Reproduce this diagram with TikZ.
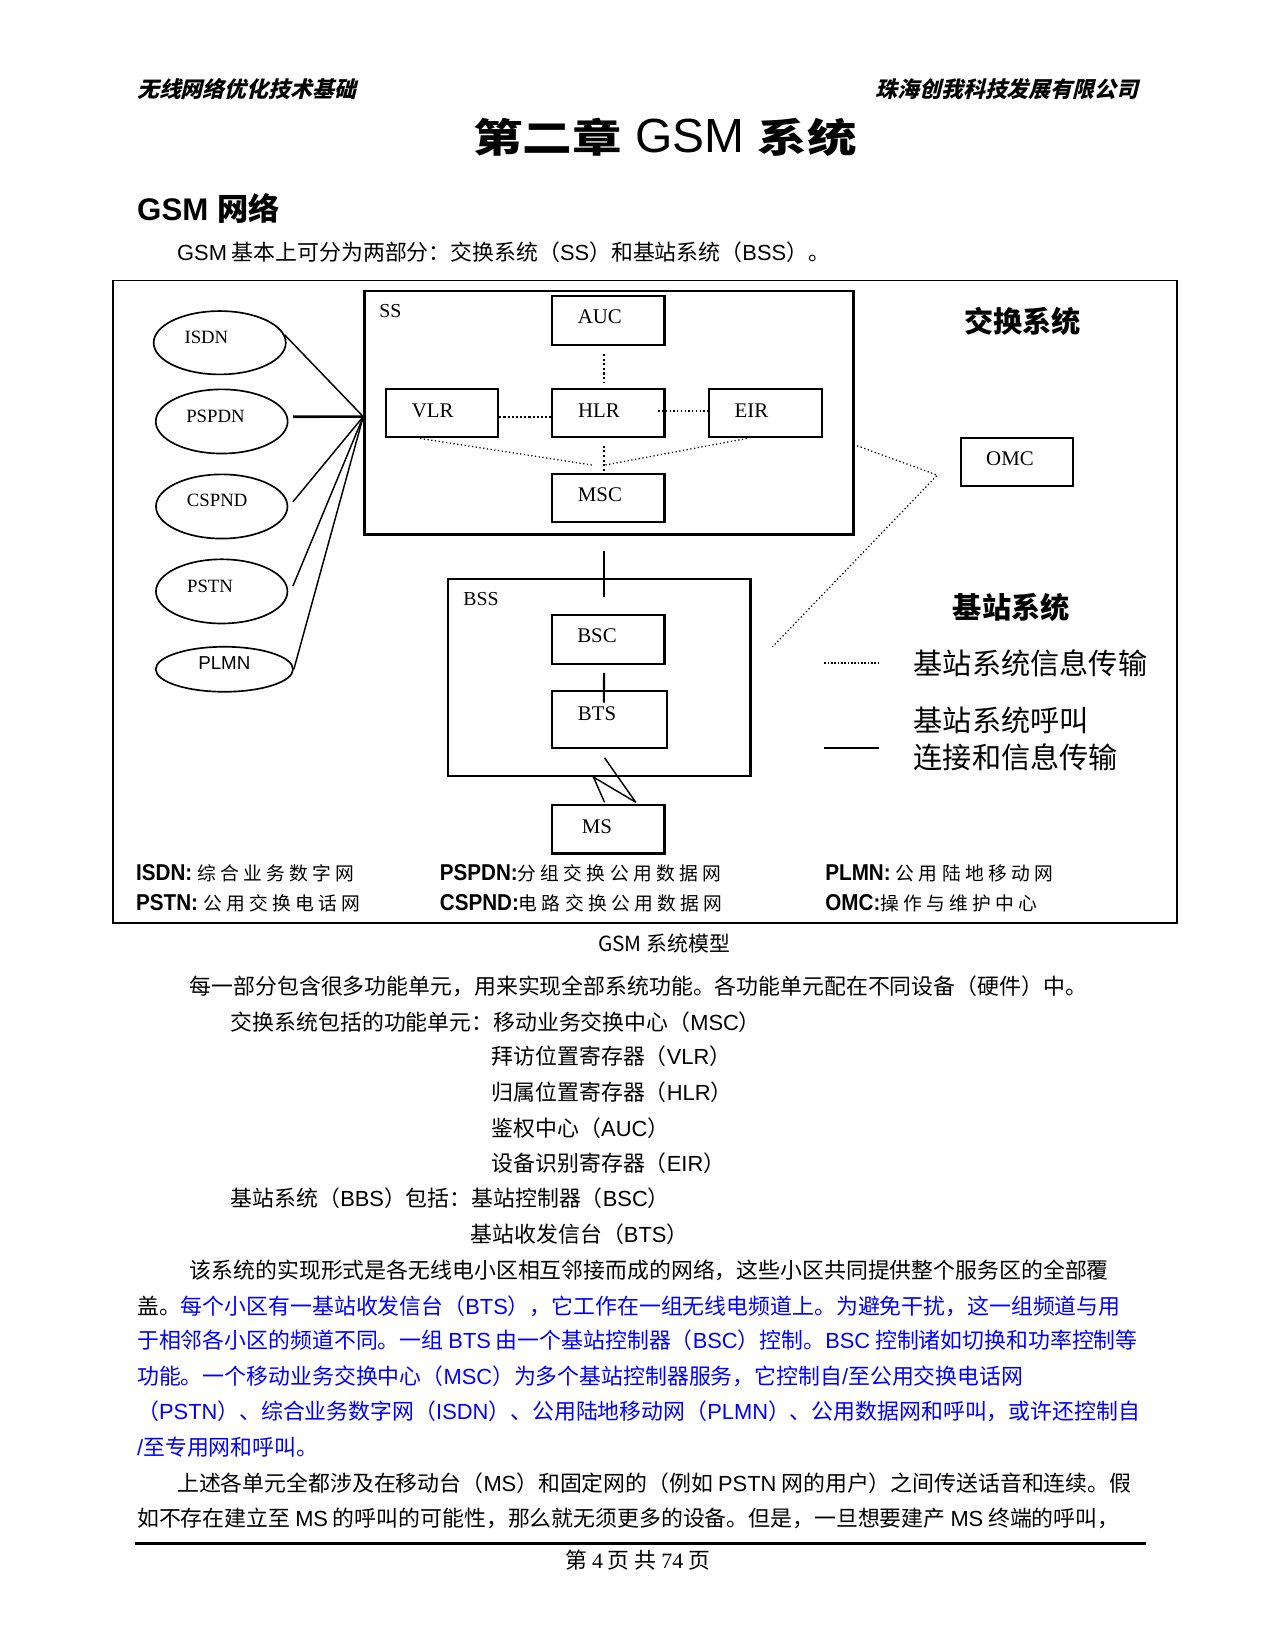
\documentclass[tikz,border=0pt]{standalone}
\usepackage{fontspec}
\usetikzlibrary{shapes.geometric}
\setmainfont{Liberation Serif}
\newfontfamily\cjk{Noto Sans CJK SC}
\newfontfamily\cjkhdr[FakeSlant=0.25]{Noto Sans CJK SC}
\newfontfamily\cjktitle[FakeStretch=1.25]{Noto Sans CJK SC}
\newfontfamily\cjksp[LetterSpace=23]{Noto Sans CJK SC}
\newfontfamily\arial{Liberation Sans}
\newfontfamily\arialn[FakeStretch=0.9]{Liberation Sans}
\newfontfamily\tnr{Liberation Serif}
\newcommand\lat[1]{{\arial #1}}
\newcommand\abB[1]{{\arialn\bfseries\fontsize{11}{13}\selectfont #1}}
\newcommand\abC[1]{{\cjksp\fontsize{9}{11}\selectfont #1}}
\definecolor{bluetext}{RGB}{0,0,255}
\begin{document}
\begin{tikzpicture}[x=0.505pt,y=-0.505pt,
  every label/.style={font=\tnr\fontsize{10}{12}\selectfont, inner sep=0pt, anchor=center},
  box/.style={draw, line width=1pt, minimum width=54pt, minimum height=23.3pt, inner sep=0pt},
  net/.style={ellipse, draw, line width=0.8pt, inner sep=0pt},
  cont/.style={draw, inner sep=0pt},
  info/.style={line width=0.6pt, dash pattern=on 0.6pt off 1.2pt},
  infov/.style={line width=1pt, dash pattern=on 1pt off 1.2pt},
  call/.style={line width=1pt},
  link/.style={line width=0.7pt},
  body/.style={anchor=west, inner sep=0pt, font=\cjk\fontsize{10.5}{12}\selectfont},
  leg/.style={anchor=west, inner sep=0pt, font=\cjk\fontsize{14}{16}\selectfont},
  abbr/.style={anchor=west, inner sep=0pt},
  nlab/.style={font=\tnr\fontsize{9}{11}\selectfont},
]
\fill[white] (0,0) rectangle (1212,1568);
\useasboundingbox (0,0) rectangle (1212,1568);

% header
\node[anchor=west, inner sep=0pt, font=\cjkhdr\bfseries\fontsize{10.5}{12}\selectfont] (hl) at (130,85) {无线网络优化技术基础};
\node[anchor=east, inner sep=0pt, font=\cjkhdr\bfseries\fontsize{10.5}{12}\selectfont] (hr) at (1082,85) {珠海创我科技发展有限公司};
\node[inner sep=0pt] (title) at (632,131) {{\cjktitle\bfseries\fontsize{19}{22}\selectfont 第二章}{\arial\fontsize{23}{26}\selectfont\ GSM\ }{\cjktitle\bfseries\fontsize{19}{22}\selectfont 系统}};
\node[anchor=west, inner sep=0pt] (h2) at (130,198) {{\arial\bfseries\fontsize{15}{18}\selectfont GSM }{\cjk\bfseries\fontsize{15}{18}\selectfont 网络}};
\node[body] (intro) at (168,240) {\lat{GSM} 基本上可分为两部分：交换系统（\lat{SS}）和基站系统（\lat{BSS}）。};

% frame and containers
\node[cont, line width=0.9pt, minimum width=510.6pt, minimum height=308.3pt] (frame) at (613,571.75) {};
\node[cont, line width=1.1pt, minimum width=234.7pt, minimum height=117pt,
  label={[xshift=13pt,yshift=-10.5pt,font=\tnr\fontsize{9.5}{11}\selectfont]north west:SS}] (ss) at (578.65,392.15) {};
\node[cont, line width=1pt, minimum width=145pt, minimum height=94.8pt,
  label={[xshift=16.2pt,yshift=-10.4pt,font=\tnr\fontsize{9.5}{11}\selectfont]north west:BSS}] (bss) at (569.6,643.7) {};

% boxes
\node[box, label={[xshift=-4pt,yshift=1.8pt]center:AUC}] (auc) at (578,304.5) {};
\node[box, label={[xshift=-4.5pt,yshift=1.3pt]center:VLR}] (vlr) at (420,392.6) {};
\node[box, label={[xshift=-4.5pt,yshift=1.3pt]center:HLR}] (hlr) at (578,392.6) {};
\node[box, label={[xshift=-6.8pt,yshift=1.3pt]center:EIR}] (eir) at (727.5,392.6) {};
\node[box, label={[xshift=-4pt,yshift=1.7pt]center:MSC}] (msc) at (578,473.4) {};
\node[box, label={[xshift=-3.3pt,yshift=1.6pt]center:OMC}] (omc) at (966.3,438.9) {};
\node[box, label={[xshift=-5.4pt,yshift=1.5pt]center:BSC}] (bsc) at (578,607.5) {};
\node[box, minimum width=55pt, minimum height=27.5pt, label={[xshift=-5.9pt,yshift=3pt]center:BTS}] (bts) at (579,684) {};
\node[box, label={[xshift=-5.4pt,yshift=1.1pt]center:MS}] (ms) at (578,788) {};

% external networks
\node[net, minimum width=63.4pt, minimum height=30.4pt, label={[nlab,xshift=-6.4pt,yshift=2.4pt]center:ISDN}] (isdn) at (208.8,325.7) {};
\node[net, minimum width=63.3pt, minimum height=30.8pt, label={[nlab,xshift=-3pt,yshift=2.3pt]center:PSPDN}] (pspdn) at (210.7,400.5) {};
\node[net, minimum width=63.1pt, minimum height=30.8pt, label={[nlab,xshift=-2.2pt,yshift=2.7pt]center:CSPND}] (cspnd) at (210.7,481.3) {};
\node[net, minimum width=63.1pt, minimum height=30.8pt, label={[nlab,xshift=-5.6pt,yshift=2.6pt]center:PSTN}] (pstn) at (210.7,562) {};
\node[net, minimum width=65.9pt, minimum height=21.6pt, label={[font=\arial\fontsize{9}{11}\selectfont,yshift=2.8pt]center:PLMN}] (plmn) at (213.2,636) {};

\coordinate (hub) at ([yshift=-1.9pt]ss.west);
\draw[link] (isdn.7) -- (hub);
\draw[line width=1.3pt] ([xshift=2.2pt,yshift=2.3pt]pspdn.east) -- (hub);
\draw[link] ([xshift=2.2pt,yshift=2.2pt]cspnd.east) -- (hub);
\draw[link] ([xshift=2.2pt,yshift=2.5pt]pstn.east) -- (hub);
\draw[link] (plmn.east) -- (hub);

% SS internal links
\draw[infov] ([xshift=-2pt,yshift=-4pt]auc.south) -- ([xshift=-2pt,yshift=2.5pt]hlr.north);
\draw[line width=1pt, dash pattern=on 1pt off 1pt] ([yshift=-1.7pt]vlr.east) -- ([yshift=-1.7pt]hlr.west);
\draw[info] ([xshift=-3.4pt,yshift=1pt]hlr.east) -- ([yshift=1pt]eir.west);
\draw[infov] ([xshift=-2pt,yshift=-3.5pt]hlr.south) -- ([xshift=-2pt,yshift=-1.4pt]msc.north);
\coordinate (jl) at (563,442);
\coordinate (jr) at (574.5,442);
\draw[info] ([xshift=-10.5pt]vlr.south) -- (jl);
\draw[info] ([xshift=-9pt]eir.south) -- (jr);

% OMC links
\coordinate (omcj) at (890.7,451.5);
\coordinate (bssj) at (734.1,614.7);
\draw[info] ([xshift=1.2pt,yshift=-15.9pt]ss.east) -- (omcj) -- (bssj);

% BSS links
\draw[call] ([xshift=-2pt,yshift=-13.3pt]msc.south) -- ([xshift=-2pt,yshift=8pt]bsc.north);
\draw[call] ([xshift=-2pt,yshift=-4pt]bsc.south) -- ([xshift=-2.6pt,yshift=-6pt]bts.north);
\coordinate (mk) at (564,738.5);
\draw[link] ([xshift=-2.3pt,yshift=-4pt]bts.south) -- ([xshift=13.2pt,yshift=0.8pt]ms.north);
\draw[link] ([xshift=13.2pt,yshift=0.8pt]ms.north) -- (mk) -- ([xshift=-1.8pt,yshift=0.8pt]ms.north);

% right side texts and legend
\node[font=\cjk\bfseries\fontsize{14}{16}\selectfont, inner sep=0pt] (tss) at (971.8,305.8) {交换系统};
\node[font=\cjk\bfseries\fontsize{14}{16}\selectfont, inner sep=0pt] (tbss) at (961,577) {基站系统};
\coordinate (d1) at (783.2,630);
\coordinate (d2) at (837,630);
\draw[line width=0.8pt, dash pattern=on 0.8pt off 0.8pt] (d1) -- (d2);
\coordinate (s1) at (782.6,710.7);
\coordinate (s2) at (835.3,710.7);
\draw[line width=1.3pt] (s1) -- (s2);
\node[leg] (lg1) at (868,630.5) {基站系统信息传输};
\node[leg] (lg2) at (868,684.4) {基站系统呼叫};
\node[leg] (lg3) at (868,719.9) {连接和信息传输};

% abbreviations
\node[abbr] (a1) at (129,830.2) {\abB{ISDN:} \abC{综合业务数字网}};
\node[abbr] (a2) at (129,858.7) {\abB{PSTN:} \abC{公用交换电话网}};
\node[abbr] (a3) at (417.6,830.2) {\abB{PSPDN:}\abC{分组交换公用数据网}};
\node[abbr] (a4) at (417.6,858.7) {\abB{CSPND:}\abC{电路交换公用数据网}};
\node[abbr] (a5) at (784,830.2) {\abB{PLMN:} \abC{公用陆地移动网}};
\node[abbr] (a6) at (784,858.7) {\abB{OMC:}\abC{操作与维护中心}};

% caption
\node[font=\cjk\fontsize{10}{12}\selectfont, inner sep=0pt] (cap) at (631,897) {GSM 系统模型};

% body
\node[body] (l1) at (180,937) {每一部分包含很多功能单元，用来实现全部系统功能。各功能单元配在不同设备（硬件）中。};
\node[body] (l2) at (219,971) {交换系统包括的功能单元：移动业务交换中心（\lat{MSC}）};
\node[body] (l3) at (467,1004) {拜访位置寄存器（\lat{VLR}）};
\node[body] (l4) at (467,1038) {归属位置寄存器（\lat{HLR}）};
\node[body] (l5) at (467,1072) {鉴权中心（\lat{AUC}）};
\node[body] (l6) at (467,1105) {设备识别寄存器（\lat{EIR}）};
\node[body] (l7) at (219,1139) {基站系统（\lat{BBS}）包括：基站控制器（\lat{BSC}）};
\node[body] (l8) at (447,1173) {基站收发信台（\lat{BTS}）};
\node[body] (l9) at (180,1207) {该系统的实现形式是各无线电小区相互邻接而成的网络，这些小区共同提供整个服务区的全部覆};
\node[body] (l10) at (130,1241) {盖。{\color{bluetext}每个小区有一基站收发信台（\lat{BTS}），它工作在一组无线电频道上。为避免干扰，这一组频道与用}};
\node[body, text=bluetext] (l11) at (130,1274) {于相邻各小区的频道不同。一组 \lat{BTS} 由一个基站控制器（\lat{BSC}）控制。\lat{BSC} 控制诸如切换和功率控制等};
\node[body, text=bluetext] (l12) at (130,1308) {功能。一个移动业务交换中心（\lat{MSC}）为多个基站控制器服务，它控制自\lat{/}至公用交换电话网};
\node[body, text=bluetext] (l13) at (130,1341) {（\lat{PSTN}）、综合业务数字网（\lat{ISDN}）、公用陆地移动网（\lat{PLMN}）、公用数据网和呼叫，或许还控制自};
\node[body, text=bluetext] (l14) at (130,1375) {\lat{/}至专用网和呼叫。};
\node[body] (l15) at (168,1409) {上述各单元全都涉及在移动台（\lat{MS}）和固定网的（例如 \lat{PSTN} 网的用户）之间传送话音和连续。假};
\node[body] (l16) at (130,1443) {如不存在建立至 \lat{MS} 的呼叫的可能性，那么就无须更多的设备。但是，一旦想要建产 \lat{MS} 终端的呼叫，};

% footer
\coordinate (f1) at (128,1467);
\coordinate (f2) at (1089,1467);
\draw[line width=1.2pt] (f1) -- (f2);
\node[font=\cjk\fontsize{10.5}{12}\selectfont, inner sep=0pt] (pg) at (606,1483) {第 {\tnr 4} 页 共 {\tnr 74} 页};
\end{tikzpicture}
\end{document}
